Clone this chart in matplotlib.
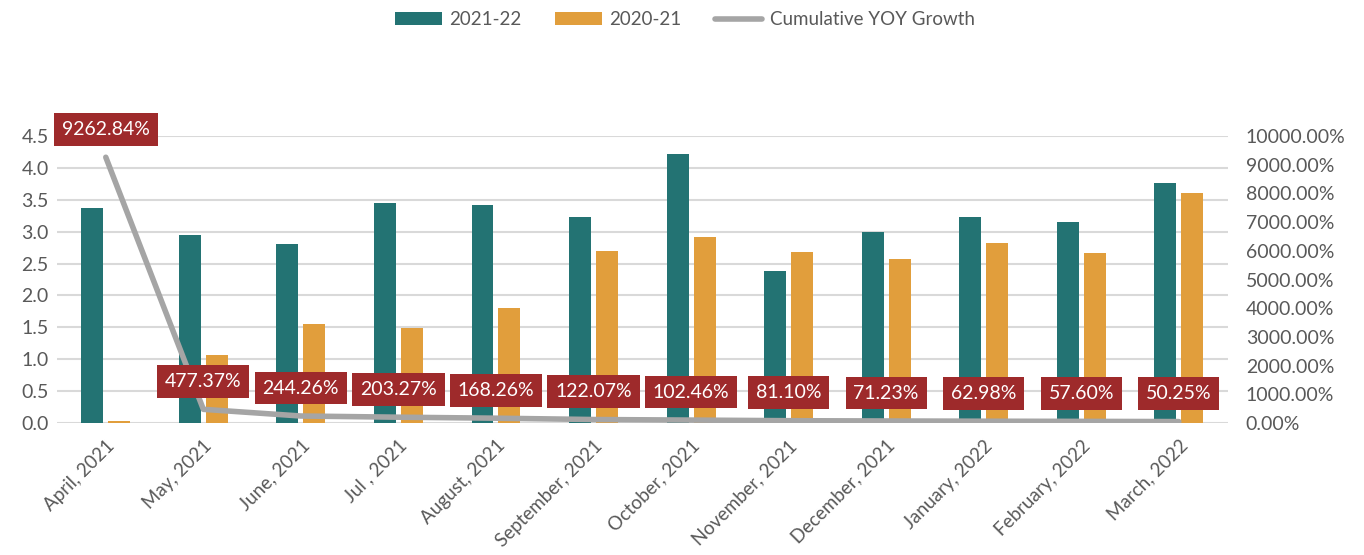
import numpy as np
import matplotlib.pyplot as plt

# chart data
months = ["April, 2021", "May, 2021", "June, 2021", "Jul , 2021", "August, 2021",
          "September, 2021", "October, 2021", "November, 2021", "December, 2021",
          "January, 2022", "February, 2022", "March, 2022"]
fy2122 = [3.37, 2.95, 2.81, 3.45, 3.42, 3.23, 4.22, 2.38, 2.99, 3.23, 3.15, 3.77]
fy2021 = [0.03, 1.06, 1.56, 1.49, 1.81, 2.70, 2.92, 2.68, 2.57, 2.83, 2.67, 3.60]
growth = [9262.84, 477.37, 244.26, 203.27, 168.26, 122.07, 102.46, 81.10,
          71.23, 62.98, 57.60, 50.25]

teal = "#237373"
orange = "#E19E3C"
grey = "#A5A5A5"
boxred = "#9E2A2B"
txt = "#595959"

plt.rcParams['font.family'] = ['Lato', 'DejaVu Sans']

fig = plt.figure(figsize=(13.64, 5.55), dpi=100)
ax = fig.add_axes([0.0418, 0.2378, 0.8582, 0.517])
x = np.arange(len(months))
w = 0.225
b1 = ax.bar(x - 0.138, fy2122, w, color=teal, label="2021-22", zorder=2)
b2 = ax.bar(x + 0.138, fy2021, w, color=orange, label="2020-21", zorder=2)
ax.set_xlim(-0.5, len(months) - 0.5)
ax.set_ylim(0, 4.5)
ax.set_yticks(np.arange(0, 4.51, 0.5))
ax.set_yticklabels([f"{v:.1f}" for v in np.arange(0, 4.51, 0.5)])
ax.grid(axis='y', color="#D9D9D9", linewidth=1.5, zorder=0)
ax.set_axisbelow(True)
for s in ax.spines.values():
    s.set_visible(False)
ax.tick_params(length=0, labelsize=14, colors=txt, pad=6)
ax.set_xticks(x)
ax.set_xticklabels(months, rotation=45, ha='right', rotation_mode='anchor')
ax.tick_params(axis='x', labelsize=13.5, pad=10)

ax2 = ax.twinx()
ax2.set_ylim(0, 10000)
ax2.set_yticks(np.arange(0, 10001, 1000))
ax2.set_yticklabels([f"{v:.2f}%" for v in np.arange(0, 10001, 1000)])
for s in ax2.spines.values():
    s.set_visible(False)
ax2.tick_params(length=0, labelsize=14, colors=txt, pad=13)
line, = ax2.plot(x, growth, color=grey, linewidth=4, solid_capstyle='round',
                 label="Cumulative YOY Growth", zorder=3)

for xi, g in zip(x, growth):
    ax2.annotate(f"{g:.2f}%", (xi, g), xytext=(0, 14), textcoords='offset points',
                 ha='center', va='bottom', color='white', fontsize=14,
                 bbox=dict(boxstyle='square,pad=0.4', fc=boxred, ec='none'),
                 zorder=5)

fig.legend(handles=[b1, b2, line], loc='upper center', bbox_to_anchor=(0.502, 1.01),
           ncol=3, frameon=False, fontsize=13.5, labelcolor=txt,
           handlelength=2.5, handleheight=0.7, columnspacing=1.8, handletextpad=0.4)

fig.savefig("out.png", dpi=100)
